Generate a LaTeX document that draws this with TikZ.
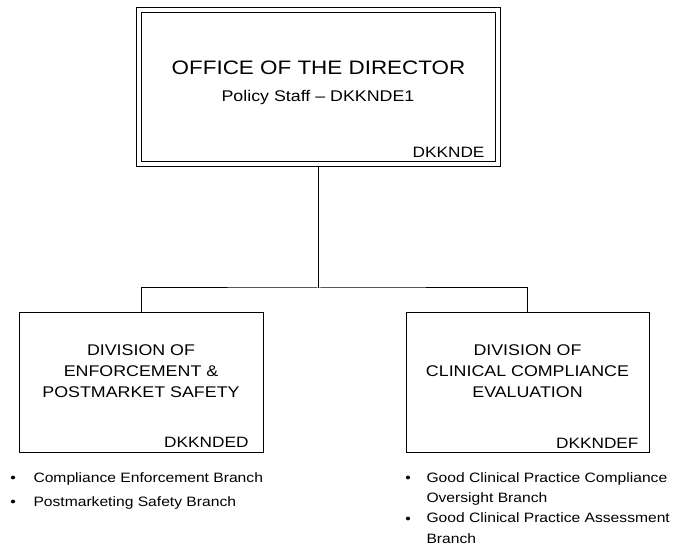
\documentclass[tikz,border=0pt]{standalone}
\usepackage{fontspec}
\setmainfont{Liberation Sans}[FakeStretch=1.15]
\usetikzlibrary{positioning}

\begin{document}
\begin{tikzpicture}[x=1pt, y=-1pt, line width=1pt,
    box/.style={draw, rectangle, inner sep=0pt, minimum height=140pt},
    topbox/.style={draw, rectangle, double, double distance=3.5pt, line width=1.1pt, inner sep=0pt, outer sep=2.85pt, minimum width=359.3pt, minimum height=154.3pt},
    boxtitle/.style={align=center, inner sep=0pt, font=\fontsize{15.5}{21}\selectfont},
    boxcode/.style={anchor=base east, inner sep=0pt, font=\fontsize{15}{18}\selectfont},
    item/.style={anchor=base west, align=left, inner sep=0pt, font=\fontsize{13.6}{20.3}\selectfont},
    dot/.style={anchor=base, inner sep=0pt, font=\fontsize{13.6}{16}\selectfont}]
    \useasboundingbox (0,0) rectangle (675,548);

    % Office of the Director
    \node[topbox] (director) at (318.5,87) {};
    \node[anchor=base, inner sep=0pt, font=\fontsize{19.5}{22}\selectfont] (dirtitle) at (318.5,74.5) {OFFICE OF THE DIRECTOR};
    \node[anchor=base, inner sep=0pt, font=\fontsize{15.5}{18}\selectfont] (dirstaff) at (318,102) {Policy Staff -- DKKNDE1};
    \node[boxcode] (dircode) at (485,158) {DKKNDE};

    % Divisions
    \node[box, minimum width=244pt] (enforce) at (141,382) {};
    \node[boxtitle] (enftitle) at (141,371.5) {DIVISION OF\\ENFORCEMENT \&\\POSTMARKET SAFETY};
    \node[boxcode] (enfcode) at (249,447.7) {DKKNDED};

    \node[box, minimum width=243pt] (clinical) at (527.5,382) {};
    \node[boxtitle] (clintitle) at (527.5,371.5) {DIVISION OF\\CLINICAL COMPLIANCE\\EVALUATION};
    \node[boxcode] (clincode) at (639,448) {DKKNDEF};

    % Connectors
    \coordinate (hub) at (318.5,288);
    \draw (director.south) -- (hub);
    \draw (enforce.north) |- (hub) -| (clinical.north);

    % Branches (multi-line items sit on their last baseline)
    \node[dot] (enfdot1) at (13,482.7) {\textbullet};
    \node[item] (enfitem1) at (33,482.7) {Compliance Enforcement Branch};
    \node[dot] (enfdot2) at (13,506) {\textbullet};
    \node[item] (enfitem2) at (33,506) {Postmarketing Safety Branch};

    \node[dot] (clindot1) at (408,482.7) {\textbullet};
    \node[item] (clinitem1) at (426,502.7) {Good Clinical Practice Compliance\\Oversight Branch};
    \node[dot] (clindot2) at (408,523) {\textbullet};
    \node[item] (clinitem2) at (426,543) {Good Clinical Practice Assessment\\Branch};
\end{tikzpicture}
\end{document}
